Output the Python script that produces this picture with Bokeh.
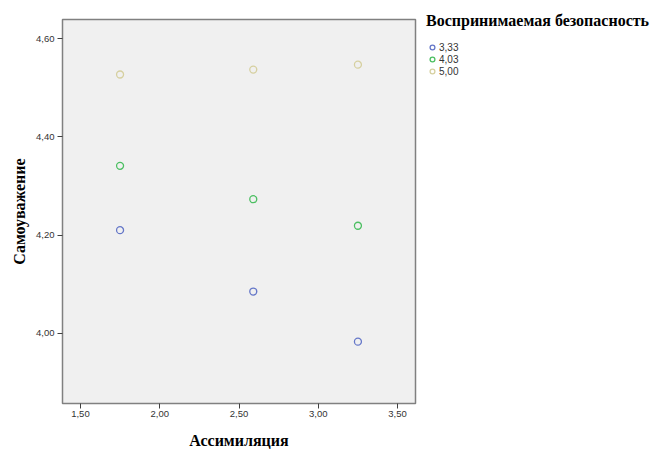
from bokeh.plotting import figure
from bokeh.models import Legend, LegendItem, FixedTicker, Range1d
from bokeh.embed import file_html
from bokeh.resources import INLINE

# Data
assim = [1.75, 2.59, 3.25]
series_names = ["3,33", "4,03", "5,00"]
y_333 = [4.210, 4.085, 3.983]
y_403 = [4.341, 4.273, 4.219]
y_500 = [4.527, 4.537, 4.547]
series_values = [y_333, y_403, y_500]
colors = ["#6577c8", "#4cbf62", "#d6d0a0"]

x_ticks = [1.5, 2.0, 2.5, 3.0, 3.5]
x_tick_labels = ["1,50", "2,00", "2,50", "3,00", "3,50"]
y_ticks = [4.0, 4.2, 4.4, 4.6]
y_tick_labels = ["4,00", "4,20", "4,40", "4,60"]

SERIF = "Liberation Serif"
SANS = "Liberation Sans"

p = figure(frame_width=353, frame_height=384, output_backend="svg", toolbar_location=None,
           x_range=Range1d(1.387, 3.613), y_range=Range1d(3.857, 4.639),
           min_border_left=62, min_border_right=248, min_border_top=19, min_border_bottom=48)
p.background_fill_color = "#f0f0f0"
p.border_fill_color = "white"
p.outline_line_color = "#808080"
p.outline_line_width = 1.5
p.grid.visible = False

p.xaxis.ticker = FixedTicker(ticks=x_ticks)
p.xaxis.major_label_overrides = dict(zip(x_ticks, x_tick_labels))
p.yaxis.ticker = FixedTicker(ticks=y_ticks)
p.yaxis.major_label_overrides = dict(zip(y_ticks, y_tick_labels))

for ax in [p.xaxis[0], p.yaxis[0]]:
    ax.axis_line_color = "#808080"
    ax.major_tick_line_color = "#404040"
    ax.major_tick_out = 5
    ax.major_tick_in = 0
    ax.minor_tick_line_color = None
    ax.major_label_text_font = SANS
    ax.major_label_text_font_size = "9.5px"
    ax.major_label_text_color = "#333333"
    ax.major_label_standoff = 3
    ax.axis_label_text_font = SERIF
    ax.axis_label_text_font_style = "bold"
    ax.axis_label_text_font_size = "16px"
    ax.axis_label_text_color = "black"

p.xaxis.major_label_standoff = 2
p.xaxis.axis_label = "Ассимиляция"
p.xaxis.axis_label_standoff = 12
p.yaxis.axis_label = "Самоуважение"
p.yaxis.axis_label_standoff = 5
p.yaxis.major_label_orientation = "horizontal"

items = []
for name, vals, c in zip(series_names, series_values, colors):
    r = p.scatter(assim, vals, marker="circle", size=7, fill_color=None,
                  line_color=c, line_width=1.3)
    items.append(LegendItem(label=name, renderers=[r]))

legend = Legend(items=items, location=(11, 326), padding=0, spacing=0, margin=0,
                glyph_width=12, glyph_height=12, label_height=12, label_standoff=1,
                label_text_font=SANS, label_text_font_size="10px", label_text_color="#333333",
                title="Воспринимаемая безопасность", title_text_font=SERIF,
                title_text_font_style="bold", title_text_font_size="16px",
                title_text_color="black", title_standoff=11,
                border_line_color=None, background_fill_alpha=0)
p.add_layout(legend, "right")

open("out.html", "w").write(file_html(p, INLINE))
